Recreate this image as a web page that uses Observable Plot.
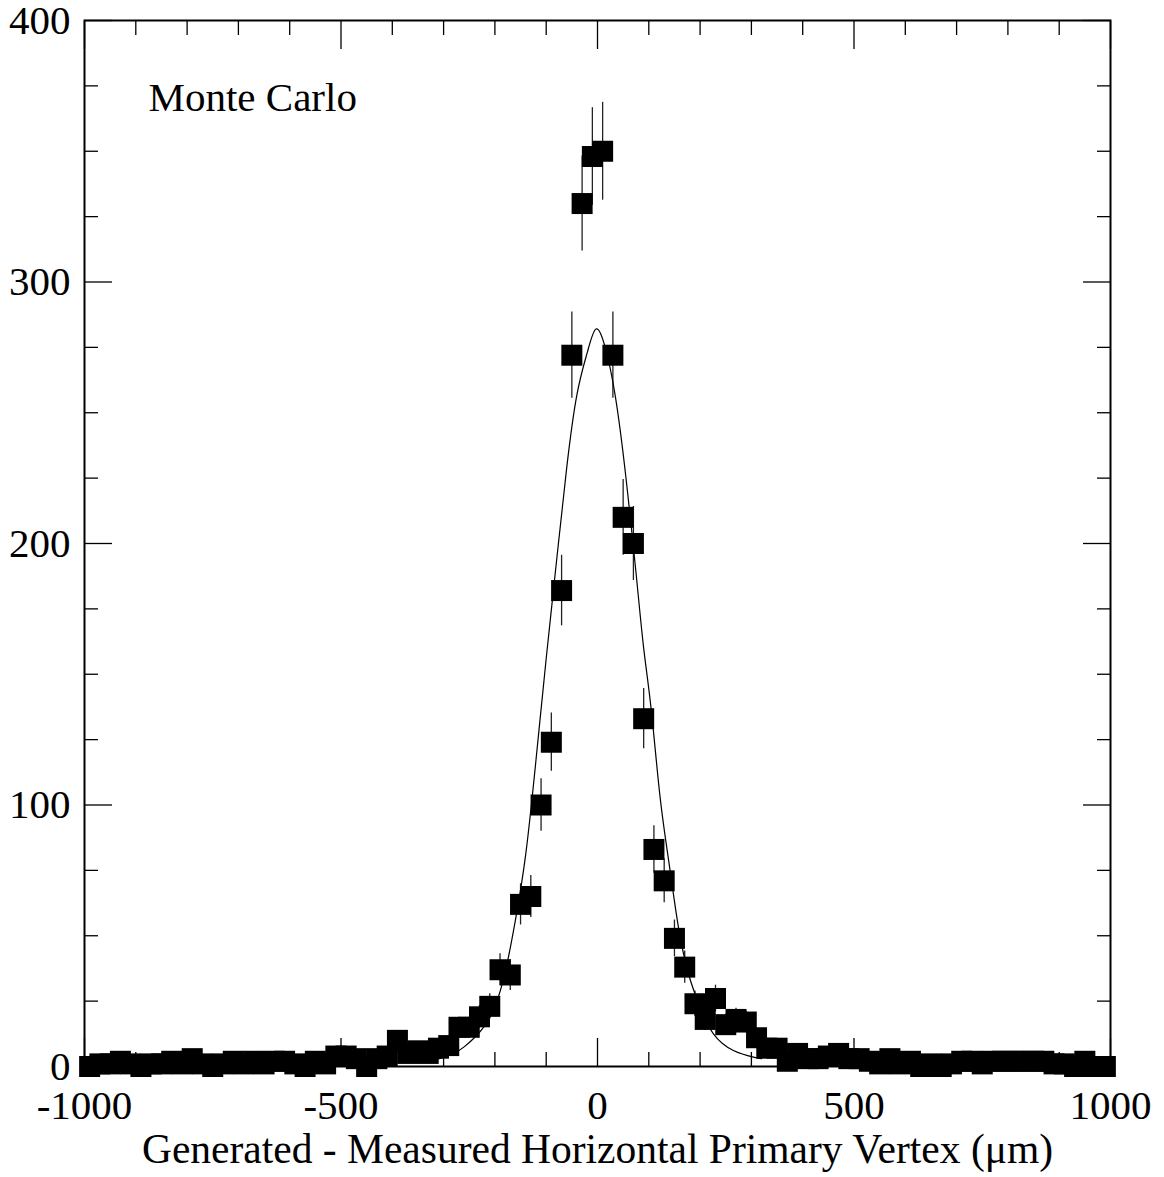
<!DOCTYPE html>
<html><head><meta charset="utf-8">
<script src="https://cdn.jsdelivr.net/npm/d3@7"></script>
<script src="https://cdn.jsdelivr.net/npm/@observablehq/plot@0.6"></script>
<style>html,body{margin:0;padding:0;background:#fff;}</style>
</head><body><div id="chart"></div>
<script>
// Histogram bin centres (µm) and counts
const binCenters = [
  -990,-970,-950,-930,-910,-890,-870,-850,-830,-810,
  -790,-770,-750,-730,-710,-690,-670,-650,-630,-610,
  -590,-570,-550,-530,-510,-490,-470,-450,-430,-410,
  -390,-370,-350,-330,-310,-290,-270,-250,-230,-210,
  -190,-170,-150,-130,-110,-90,-70,-50,-30,-10,
  10,30,50,70,90,110,130,150,170,190,
  210,230,250,270,290,310,330,350,370,390,
  410,430,450,470,490,510,530,550,570,590,
  610,630,650,670,690,710,730,750,770,790,
  810,830,850,870,890,910,930,950,970,990
];
const counts = [
  0,1,1,2,1,0,1,1,2,1,
  3,1,0,1,2,1,2,1,2,2,
  1,0,2,1,4,4,3,0,3,4,
  10,5,6,5,7,8,15,15,19,23,
  37,35,62,65,100,124,182,272,330,348,
  350,272,210,200,133,83,71,49,38,24,
  18,26,16,18,17,11,7,7,2,5,
  3,3,4,5,3,3,2,1,3,1,
  2,0,1,0,1,2,2,1,2,2,
  2,2,2,2,1,1,0,2,0,0
];
// Fit curve
const fitX = [-320,-300,-280,-260,-240,-220,-200,-180,-160,-140,-120,-100,-80,-60,-40,-20,-3,15,35,55,75,90,105,122,140,158,178,200,226,265,304,320];
const fitY = [2.5,3.5,5,7.5,11,15.5,23,36,56,81,117,156,193,229,257,273,282,275,256,226,189,160,136,103,77,53,35,22.7,12.5,6.1,3.6,3];

const xMajorTicks = [-1000,-500,0,500,1000];
const xMinorTicks = [-900,-800,-700,-600,-400,-300,-200,-100,100,200,300,400,600,700,800,900];
const yMajorTicks = [0,100,200,300,400];
const yMinorTicks = [25,50,75,125,150,175,225,250,275,325,350,375];

const panelLabel = "Monte Carlo";
const xTitle = "Generated - Measured Horizontal Primary Vertex (\u03bcm)";

const points = binCenters.map((x, i) => ({x, y: counts[i]}));
const fit = fitX.map((x, i) => ({x, y: fitY[i]}));

const fmt = d => (d < 0 ? "-" + (-d) : String(d));
const blank = () => "";

const chart = Plot.plot({
  width: 1164,
  height: 1177,
  marginLeft: 84,
  marginRight: 54,
  marginTop: 20,
  marginBottom: 111,
  style: {fontFamily: "'Liberation Serif', 'Times New Roman', serif", fontSize: "41px", background: "#fff", color: "#000"},
  x: {domain: [-1000, 1000]},
  y: {domain: [0, 400]},
  marks: [
    Plot.ruleX(points, {x: "x", y1: d => d.y - Math.sqrt(d.y), y2: d => d.y + Math.sqrt(d.y), stroke: "#222", strokeWidth: 1.3}),
    Plot.dot(points, {x: "x", y: "y", symbol: "square", r: 11.85, fill: "#000", stroke: "none"}),
    Plot.line(fit, {x: "x", y: "y", curve: "natural", stroke: "#000", strokeWidth: 1.2}),
    Plot.axisX(xMinorTicks, {anchor: "bottom", tickSize: -14, tickFormat: blank, label: null, strokeWidth: 1.3}),
    Plot.axisX(xMajorTicks, {anchor: "bottom", tickSize: -28, tickFormat: blank, label: null, strokeWidth: 1.3}),
    Plot.axisX(xMajorTicks, {anchor: "bottom", tickSize: 0, tickPadding: 23, tickFormat: fmt, label: null, fontSize: 41}),
    Plot.axisX(xMinorTicks, {anchor: "top", tickSize: -14, tickFormat: blank, label: null, strokeWidth: 1.3}),
    Plot.axisX(xMajorTicks, {anchor: "top", tickSize: -28, tickFormat: blank, label: null, strokeWidth: 1.3}),
    Plot.axisY(yMinorTicks, {anchor: "left", tickSize: -14, tickFormat: blank, label: null, strokeWidth: 1.3}),
    Plot.axisY(yMajorTicks, {anchor: "left", tickSize: -28, tickFormat: blank, label: null, strokeWidth: 1.3}),
    Plot.axisY(yMajorTicks, {anchor: "left", tickSize: 0, tickPadding: 14, tickFormat: fmt, label: null, fontSize: 41}),
    Plot.axisY(yMinorTicks, {anchor: "right", tickSize: -14, tickFormat: blank, label: null, strokeWidth: 1.3}),
    Plot.axisY(yMajorTicks, {anchor: "right", tickSize: -28, tickFormat: blank, label: null, strokeWidth: 1.3}),
    Plot.frame({stroke: "#000", strokeWidth: 2}),
    Plot.text([panelLabel], {text: d => d, frameAnchor: "top-left", dx: 64, dy: 61, textAnchor: "start", lineAnchor: "top", fontSize: 41}),
    Plot.text([xTitle], {text: d => d, frameAnchor: "bottom", dy: 83, lineAnchor: "middle", fontSize: 41.5})
  ]
});
document.getElementById("chart").appendChild(chart);
</script>
</body></html>
